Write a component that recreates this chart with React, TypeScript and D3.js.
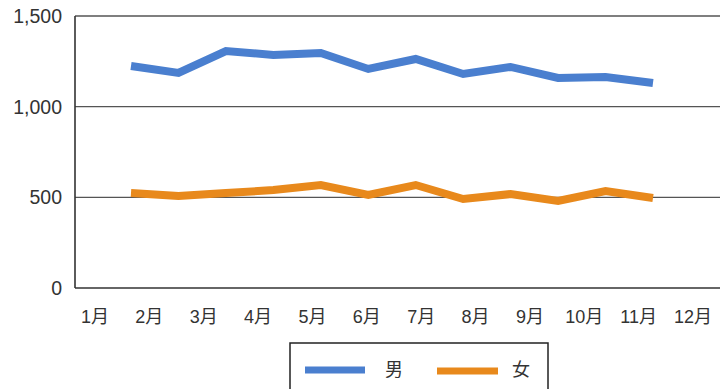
import React from "react";
import * as d3 from "d3";

// Monthly counts by sex
const months = ["1月", "2月", "3月", "4月", "5月", "6月", "7月", "8月", "9月", "10月", "11月", "12月"];
const maleValues = [1224, 1186, 1307, 1285, 1296, 1208, 1263, 1180, 1219, 1158, 1164, 1131];
const femaleValues = [524, 507, 524, 540, 568, 513, 568, 491, 518, 480, 535, 496];
const yTicks = [0, 500, 1000, 1500];
const seriesNames = ["男", "女"];

const W = 720;
const H = 389;
const FONT = "'Liberation Sans', Arial, 'Noto Sans CJK JP', sans-serif";
const MALE = "#4a7fcf";
const FEMALE = "#e8891c";

export default function App() {
  const plotLeft = 75;
  const plotRight = 720;
  const y = d3.scaleLinear().domain([0, 1500]).range([288, 16]);
  // month labels along the bottom
  const xLabel = d3.scalePoint<string>().domain(months).range([95, 693]);
  // the data points sit on their own, slightly narrower spacing
  const xData = d3.scalePoint<string>().domain(months).range([131, 653]);

  const line = d3
    .line<number>()
    .x((_, i) => xData(months[i]) as number)
    .y((d) => y(d));

  const fmt = d3.format(",");

  return (
    <svg
      width={W}
      height={H}
      style={{ position: "absolute", left: 0, top: 0, background: "#fff" }}
      fontFamily={FONT}
    >
      {/* gridlines */}
      {yTicks.map((t) => (
        <line
          key={t}
          x1={plotLeft}
          x2={plotRight}
          y1={y(t)}
          y2={y(t)}
          stroke={t === 0 ? "#333" : "#555"}
          strokeWidth={t === 0 ? 1.6 : 1.3}
        />
      ))}
      {/* y axis line */}
      <line x1={plotLeft} x2={plotLeft} y1={y(1500)} y2={y(0)} stroke="#333" strokeWidth={1.6} />

      {/* y tick labels */}
      {yTicks.map((t) => (
        <text
          key={t}
          x={62}
          y={y(t)}
          dy="0.36em"
          textAnchor="end"
          fontSize={19.5}
          fill="#333"
        >
          {fmt(t)}
        </text>
      ))}

      {/* x tick labels */}
      {months.map((m) => (
        <text
          key={m}
          x={xLabel(m)}
          y={323}
          textAnchor="middle"
          fontSize={18}
          fill="#333"
        >
          {m}
        </text>
      ))}

      {/* series lines */}
      <path
        d={line(maleValues) ?? ""}
        fill="none"
        stroke={MALE}
        strokeWidth={8}
        strokeLinejoin="miter"
        strokeLinecap="butt"
      />
      <path
        d={line(femaleValues) ?? ""}
        fill="none"
        stroke={FEMALE}
        strokeWidth={8}
        strokeLinejoin="miter"
        strokeLinecap="butt"
      />

      {/* legend */}
      <rect x={290} y={343} width={258} height={60} fill="#fff" stroke="#222" strokeWidth={1.5} />
      <line x1={305} x2={365} y1={370} y2={370} stroke={MALE} strokeWidth={7} />
      <text x={394} y={370} dy="0.36em" textAnchor="middle" fontSize={18} fill="#333">
        {seriesNames[0]}
      </text>
      <line x1={437} x2={498} y1={371} y2={371} stroke={FEMALE} strokeWidth={7} />
      <text x={521} y={370} dy="0.36em" textAnchor="middle" fontSize={18} fill="#333">
        {seriesNames[1]}
      </text>
    </svg>
  );
}
